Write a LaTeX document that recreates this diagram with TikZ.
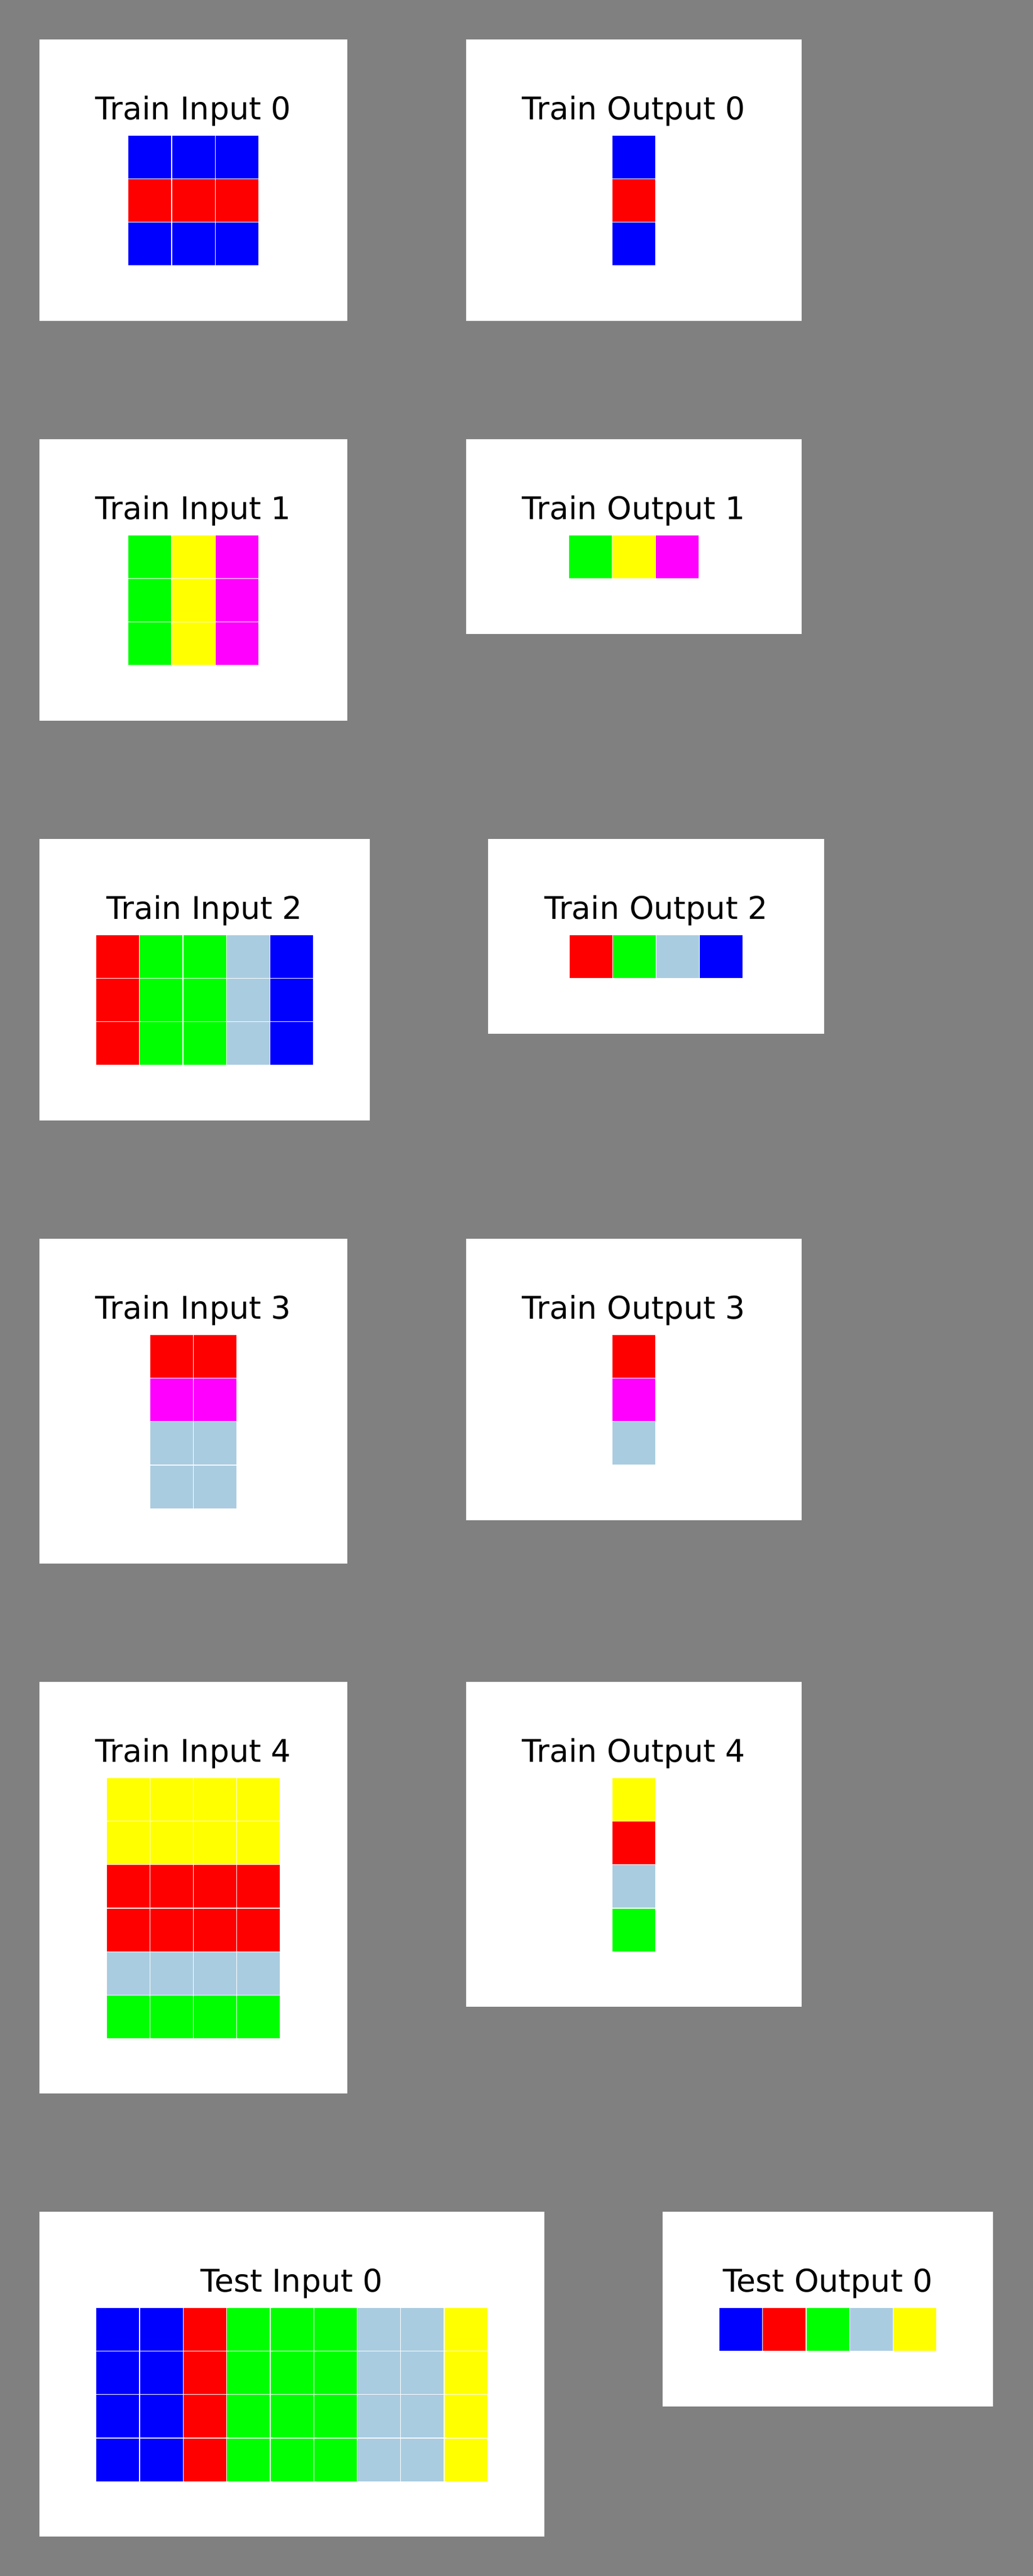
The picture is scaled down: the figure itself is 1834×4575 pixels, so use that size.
\documentclass[tikz,border=0pt]{standalone}
\usepackage{fontspec}
\setmainfont{DejaVu Sans}
\definecolor{cblue}{RGB}{0,0,255}
\definecolor{cred}{RGB}{255,0,0}
\definecolor{cgreen}{RGB}{0,255,0}
\definecolor{cyellow}{RGB}{255,255,0}
\definecolor{cmagenta}{RGB}{255,0,255}
\definecolor{clight}{RGB}{170,204,224}
\definecolor{bggray}{RGB}{128,128,128}
\tikzset{
  panel/.style={fill=white},
  cell/.style={draw=white, line width=1.3pt},
  title/.style={anchor=base, inner sep=0pt, font=\fontsize{55.5}{66}\selectfont},
}
\begin{document}
\begin{tikzpicture}[x=1pt, y=-1pt]
    % Background
    \useasboundingbox (0,0) rectangle (1834,4575);
    \fill[bggray] (-10,-10) rectangle (1844,4585);

    % Train Input 0
    \fill[panel] (70,70) rectangle ++(547,500);
    \node[title] (ti0) at (343.5,212.5) {Train Input 0};
    \foreach \rowcols [count=\r from 0] in {{cblue,cblue,cblue},{cred,cred,cred},{cblue,cblue,cblue}}
      \foreach \col [count=\c from 0] in \rowcols
        \filldraw[cell, fill=\col] ({227.55+\c*77.3},{240+\r*77.3}) rectangle ++(77.3,77.3);

    % Train Output 0
    \fill[panel] (828,70) rectangle ++(596,500);
    \node[title] (to0) at (1126,212.5) {Train Output 0};
    \foreach \col [count=\r from 0] in {cblue,cred,cblue}
      \filldraw[cell, fill=\col] (1087.35,{240+\r*77.3}) rectangle ++(77.3,77.3);

    % Train Input 1
    \fill[panel] (70,780) rectangle ++(547,500);
    \node[title] (ti1) at (343.5,922.5) {Train Input 1};
    \foreach \rowcols [count=\r from 0] in {{cgreen,cyellow,cmagenta},{cgreen,cyellow,cmagenta},{cgreen,cyellow,cmagenta}}
      \foreach \col [count=\c from 0] in \rowcols
        \filldraw[cell, fill=\col] ({227.55+\c*77.3},{950+\r*77.3}) rectangle ++(77.3,77.3);

    % Train Output 1
    \fill[panel] (828,780) rectangle ++(596,346);
    \node[title] (to1) at (1126,922.5) {Train Output 1};
    \foreach \col [count=\c from 0] in {cgreen,cyellow,cmagenta}
      \filldraw[cell, fill=\col] ({1010.05+\c*77.3},950) rectangle ++(77.3,77.3);

    % Train Input 2
    \fill[panel] (70,1490) rectangle ++(587,500);
    \node[title] (ti2) at (363.5,1632.5) {Train Input 2};
    \foreach \rowcols [count=\r from 0] in {{cred,cgreen,cgreen,clight,cblue},{cred,cgreen,cgreen,clight,cblue},{cred,cgreen,cgreen,clight,cblue}}
      \foreach \col [count=\c from 0] in \rowcols
        \filldraw[cell, fill=\col] ({170.25+\c*77.3},{1660+\r*77.3}) rectangle ++(77.3,77.3);

    % Train Output 2
    \fill[panel] (867,1490) rectangle ++(597,346);
    \node[title] (to2) at (1165.5,1632.5) {Train Output 2};
    \foreach \col [count=\c from 0] in {cred,cgreen,clight,cblue}
      \filldraw[cell, fill=\col] ({1010.9+\c*77.3},1660) rectangle ++(77.3,77.3);

    % Train Input 3
    \fill[panel] (70,2200) rectangle ++(547,577);
    \node[title] (ti3) at (343.5,2342.5) {Train Input 3};
    \foreach \rowcols [count=\r from 0] in {{cred,cred},{cmagenta,cmagenta},{clight,clight},{clight,clight}}
      \foreach \col [count=\c from 0] in \rowcols
        \filldraw[cell, fill=\col] ({266.2+\c*77.3},{2370+\r*77.3}) rectangle ++(77.3,77.3);

    % Train Output 3
    \fill[panel] (828,2200) rectangle ++(596,500);
    \node[title] (to3) at (1126,2342.5) {Train Output 3};
    \foreach \col [count=\r from 0] in {cred,cmagenta,clight}
      \filldraw[cell, fill=\col] (1087.35,{2370+\r*77.3}) rectangle ++(77.3,77.3);

    % Train Input 4
    \fill[panel] (70,2987) rectangle ++(547,731);
    \node[title] (ti4) at (343.5,3129.5) {Train Input 4};
    \foreach \rowcols [count=\r from 0] in {{cyellow,cyellow,cyellow,cyellow},{cyellow,cyellow,cyellow,cyellow},{cred,cred,cred,cred},{cred,cred,cred,cred},{clight,clight,clight,clight},{cgreen,cgreen,cgreen,cgreen}}
      \foreach \col [count=\c from 0] in \rowcols
        \filldraw[cell, fill=\col] ({188.9+\c*77.3},{3157+\r*77.3}) rectangle ++(77.3,77.3);

    % Train Output 4
    \fill[panel] (828,2987) rectangle ++(596,577);
    \node[title] (to4) at (1126,3129.5) {Train Output 4};
    \foreach \col [count=\r from 0] in {cyellow,cred,clight,cgreen}
      \filldraw[cell, fill=\col] (1087.35,{3157+\r*77.3}) rectangle ++(77.3,77.3);

    % Test Input 0
    \fill[panel] (70,3928) rectangle ++(897,577);
    \node[title] (tsi0) at (518.5,4070.5) {Test Input 0};
    \foreach \rowcols [count=\r from 0] in {{cblue,cblue,cred,cgreen,cgreen,cgreen,clight,clight,cyellow},{cblue,cblue,cred,cgreen,cgreen,cgreen,clight,clight,cyellow},{cblue,cblue,cred,cgreen,cgreen,cgreen,clight,clight,cyellow},{cblue,cblue,cred,cgreen,cgreen,cgreen,clight,clight,cyellow}}
      \foreach \col [count=\c from 0] in \rowcols
        \filldraw[cell, fill=\col] ({170.65+\c*77.3},{4098+\r*77.3}) rectangle ++(77.3,77.3);

    % Test Output 0
    \fill[panel] (1177,3928) rectangle ++(587,346);
    \node[title] (tso0) at (1470.5,4070.5) {Test Output 0};
    \foreach \col [count=\c from 0] in {cblue,cred,cgreen,clight,cyellow}
      \filldraw[cell, fill=\col] ({1277.25+\c*77.3},4098) rectangle ++(77.3,77.3);
\end{tikzpicture}
\end{document}
